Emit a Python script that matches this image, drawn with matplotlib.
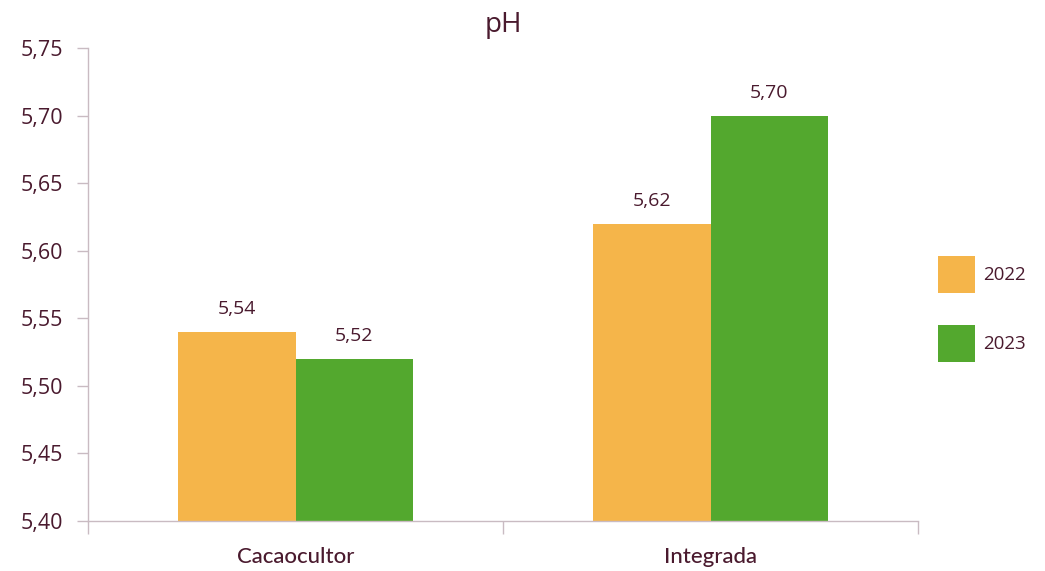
import matplotlib
matplotlib.use("Agg")
import matplotlib.pyplot as plt
import numpy as np
from matplotlib.patches import Patch

# Data
categories = ["Cacaocultor", "Integrada"]
years = ["2022", "2023"]
values_2022 = [5.54, 5.62]
values_2023 = [5.52, 5.70]
y_ticks = [5.40, 5.45, 5.50, 5.55, 5.60, 5.65, 5.70, 5.75]

text_color = "#4a1a2e"
axis_color = "#c9bbc2"
colors = ["#f5b54a", "#53a82e"]

plt.rcParams["font.family"] = ["Open Sans", "DejaVu Sans"]

fig = plt.figure(figsize=(10.45, 5.71), dpi=100)
ax = fig.add_axes([88 / 1045, 1 - 521 / 571, (918 - 88) / 1045, (521 - 48) / 571])

x = np.arange(len(categories))
width = 0.284
series = [values_2022, values_2023]
for i, (vals, col) in enumerate(zip(series, colors)):
    pos = x + (i - 0.5) * width
    ax.bar(pos, [v - 5.40 for v in vals], width, bottom=5.40, color=col,
           label=years[i], zorder=2)
    for xp, v in zip(pos, vals):
        ax.annotate(f"{v:.2f}".replace(".", ","), (xp, v), xytext=(0, 13),
                    textcoords="offset points", ha="center", va="baseline",
                    fontsize=14, color=text_color)

ax.set_ylim(5.40, 5.75)
ax.set_xlim(-0.5, 1.5)
ax.set_yticks(y_ticks)
ax.set_yticklabels([f"{t:.2f}".replace(".", ",") for t in y_ticks],
                   fontweight="medium")

ax.set_xticks(x)
ax.set_xticklabels(categories, fontfamily="Lato", fontsize=16, fontweight="medium")
ax.set_xticks([-0.5, 0.5, 1.5], minor=True)
ax.tick_params(axis="x", which="major", length=0, pad=19, labelcolor=text_color)
ax.tick_params(axis="x", which="minor", length=9, width=1, color=axis_color)
ax.tick_params(axis="y", length=8, width=1, color=axis_color, pad=10,
               labelsize=15.5, labelcolor=text_color)

for s in ["top", "right"]:
    ax.spines[s].set_visible(False)
for s in ["left", "bottom"]:
    ax.spines[s].set_color(axis_color)
    ax.spines[s].set_linewidth(1)

fig.text(503 / 1045, 1 - 25 / 571, "pH", ha="center", va="center",
         fontsize=20, color=text_color)

handles = [Patch(facecolor=c, edgecolor="none") for c in colors]
leg = fig.legend(handles, years, loc="center left",
                 bbox_to_anchor=(930 / 1045, 1 - 309 / 571), frameon=False,
                 prop={"size": 13.5, "weight": "medium"},
                 handlelength=2.0, handleheight=2.6,
                 labelspacing=1.75, handletextpad=0.45, borderaxespad=0)
for t in leg.get_texts():
    t.set_color(text_color)

fig.savefig("out.png", dpi=100, facecolor="white")
